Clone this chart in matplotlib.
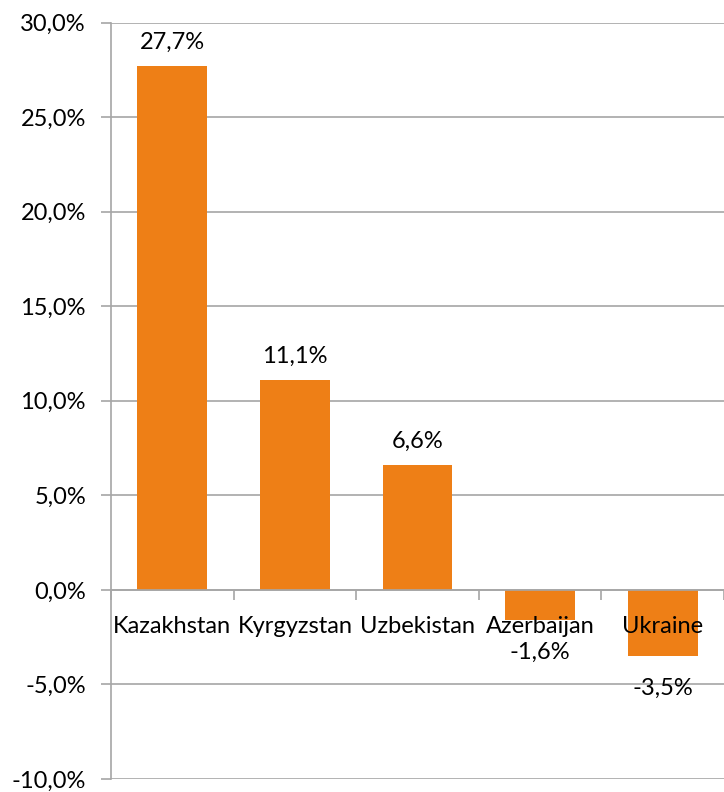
import matplotlib
matplotlib.use("Agg")
import matplotlib.pyplot as plt
import numpy as np

categories = ["Kazakhstan", "Kyrgyzstan", "Uzbekistan", "Azerbaijan", "Ukraine"]
values = [27.7, 11.1, 6.6, -1.6, -3.5]
yticks = [-10, -5, 0, 5, 10, 15, 20, 25, 30]

plt.rcParams['font.family'] = ['Lato', 'DejaVu Sans']
fs = 17

fig = plt.figure(figsize=(7.24, 7.92), dpi=100)
ax = fig.add_axes([111/724, 13/792, 1 - 111/724, (779 - 22.5)/792])

x = np.arange(len(categories))
bar_color = '#EE7F16'
ax.bar(x, values, width=0.57, color=bar_color, zorder=3)

ax.set_xlim(-0.5, len(categories) - 0.5)
ax.set_ylim(-10, 30)

ax.set_yticks(yticks)
ax.set_yticklabels([f"{v:.1f}%".replace('.', ',') for v in yticks], fontsize=fs)
ax.yaxis.grid(True, color='#A6A6A6', linewidth=1.2, zorder=0)
ax.tick_params(axis='y', length=7, width=1.2, color='#A6A6A6', pad=11, direction='out')

for s in ['top', 'right']:
    ax.spines[s].set_visible(False)
ax.spines['left'].set_color('#A6A6A6')
ax.spines['left'].set_linewidth(1.2)
ax.spines['bottom'].set_position(('data', 0))
ax.spines['bottom'].set_color('#A6A6A6')
ax.spines['bottom'].set_linewidth(1.2)
ax.spines['bottom'].set_zorder(4)

ax.set_xticks(x)
ax.set_xticklabels(categories, fontsize=fs)
ax.tick_params(axis='x', which='major', length=0, pad=19)
ax.set_xticks(np.arange(len(categories) + 1) - 0.5, minor=True)
ax.tick_params(axis='x', which='minor', length=7, width=1.2, color='#A6A6A6', direction='out')
ax.xaxis.set_zorder(5)

for xi, v in zip(x, values):
    lab = f"{v:.1f}%".replace('.', ',')
    if v >= 0:
        ax.annotate(lab, (xi, v), xytext=(0, 17), textcoords='offset points',
                    ha='center', va='center', fontsize=fs)
    else:
        ax.annotate(lab, (xi, v), xytext=(0, -23), textcoords='offset points',
                    ha='center', va='center', fontsize=fs)

fig.savefig("out.png", dpi=100)
